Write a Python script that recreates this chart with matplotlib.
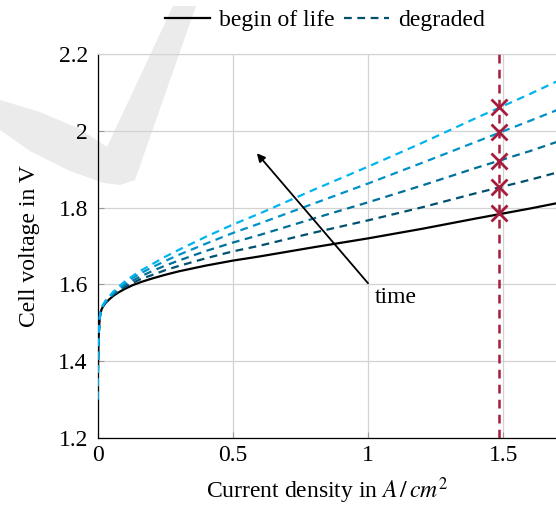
import matplotlib
matplotlib.use("Agg")
import matplotlib.pyplot as plt
from matplotlib.patches import Polygon
from matplotlib.lines import Line2D

plt.rcParams["font.family"] = ["Liberation Serif", "DejaVu Serif"]
plt.rcParams["mathtext.fontset"] = "stix"

# current density in A/cm^2
current = [0, 0.002, 0.004, 0.006, 0.008, 0.01, 0.015, 0.02, 0.03, 0.045, 0.06,
           0.08, 0.1, 0.13, 0.16, 0.2, 0.25, 0.3, 0.4, 0.5, 0.6, 0.8, 1.0,
           1.2, 1.4, 1.6, 1.7]

# begin of life polarisation curve
v_bol = [1.30, 1.40, 1.46, 1.49, 1.51, 1.522, 1.535, 1.542, 1.552, 1.562, 1.571,
         1.580, 1.588, 1.598, 1.606, 1.615, 1.625, 1.634, 1.649, 1.662, 1.673,
         1.697, 1.72, 1.745, 1.772, 1.798, 1.812]

# degraded curves, oldest last
v_deg1 = [1.30, 1.40, 1.46, 1.49, 1.51, 1.522, 1.536, 1.543, 1.553, 1.564, 1.574,
          1.584, 1.593, 1.604, 1.614, 1.624, 1.637, 1.648, 1.668, 1.686, 1.701,
          1.735, 1.767, 1.801, 1.838, 1.873, 1.892]
v_deg2 = [1.30, 1.40, 1.46, 1.491, 1.511, 1.523, 1.536, 1.544, 1.555, 1.566, 1.577,
          1.588, 1.597, 1.610, 1.621, 1.634, 1.649, 1.662, 1.687, 1.709, 1.729,
          1.772, 1.814, 1.858, 1.904, 1.948, 1.972]
v_deg3 = [1.30, 1.40, 1.461, 1.491, 1.511, 1.523, 1.537, 1.545, 1.556, 1.568, 1.580,
          1.591, 1.602, 1.617, 1.629, 1.644, 1.661, 1.677, 1.706, 1.734, 1.759,
          1.811, 1.863, 1.917, 1.972, 2.027, 2.055]
v_deg4 = [1.30, 1.40, 1.461, 1.491, 1.511, 1.524, 1.538, 1.546, 1.558, 1.570, 1.582,
          1.595, 1.607, 1.622, 1.636, 1.652, 1.672, 1.690, 1.724, 1.756, 1.785,
          1.847, 1.907, 1.969, 2.034, 2.097, 2.130]
degraded = [v_deg1, v_deg2, v_deg3, v_deg4]
deg_colors = ["#00506e", "#00709a", "#0091c8", "#00b4f0"]

# operating point
i_op = 1.485
v_op = [1.785, 1.854, 1.923, 1.997, 2.063]

red = "#a51c3c"
fs = 17

fig = plt.figure(figsize=(5.56, 5.08), dpi=100)
ax = fig.add_axes([0.1754, 0.1382, 0.8271, 0.7549])
ax.patch.set_facecolor("none")

# faint watermark behind the plot
W, H = 556, 508
wm = [(0, 100), (40, 112), (80, 129), (107, 147), (173, 6), (196, 6),
      (135, 180), (120, 185), (104, 183), (70, 171), (30, 151), (0, 130)]
fig.patches.append(Polygon([(x / W, 1 - y / H) for x, y in wm], closed=True,
                           transform=fig.transFigure, facecolor="#ebebeb",
                           edgecolor="none", zorder=-5))

ax.plot(current, v_bol, color="black", lw=1.6, zorder=3)
for v, c in zip(degraded, deg_colors):
    ax.plot(current, v, color=c, lw=1.6, dashes=(3.5, 2.5), zorder=3)

ax.axvline(i_op, color=red, lw=1.8, dashes=(3.5, 2.5), zorder=4)
ax.plot([i_op] * len(v_op), v_op, ls="none", marker="x", ms=11, mew=2,
        color=red, zorder=5)

ax.annotate("", xy=(0.589, 1.942), xytext=(1.0, 1.603),
            arrowprops=dict(arrowstyle="-|>", color="black", lw=1.3,
                            mutation_scale=12, shrinkA=0, shrinkB=0))
ax.text(1.025, 1.567, "time", fontsize=fs, va="center", ha="left")

ax.set_xlim(0, 1.7)
ax.set_ylim(1.2, 2.2)
ax.set_xticks([0, 0.5, 1, 1.5])
ax.set_xticklabels(["0", "0.5", "1", "1.5"])
ax.set_yticks([1.2, 1.4, 1.6, 1.8, 2.0, 2.2])
ax.set_yticklabels(["1.2", "1.4", "1.6", "1.8", "2", "2.2"])
ax.grid(True, color="#d3d3d3", lw=0.9)
ax.set_axisbelow(True)
ax.tick_params(direction="in", length=4, color="#999999", labelsize=fs)
ax.tick_params(axis="x", pad=5)
ax.tick_params(axis="y", pad=7)
for s in ["left", "bottom"]:
    ax.spines[s].set_color("black")
    ax.spines[s].set_linewidth(0.9)
for s in ["top", "right"]:
    ax.spines[s].set_color("#d3d3d3")

ax.set_xlabel(r"Current density in $A\,/\,cm^2$", fontsize=fs, labelpad=7)
ax.set_ylabel("Cell voltage in V", fontsize=fs, labelpad=13)

handles = [Line2D([], [], color="black", lw=1.6),
           Line2D([], [], color="#00506e", lw=1.6, dashes=(3.5, 2.5))]
fig.legend(handles, ["begin of life", "degraded"], loc="center",
           bbox_to_anchor=(325 / W, 1 - 20 / H), ncol=2, frameon=False,
           fontsize=fs, handlelength=1.9, handletextpad=0.4, columnspacing=0.4,
           borderaxespad=0, borderpad=0)

fig.savefig("out.png", dpi=100)
